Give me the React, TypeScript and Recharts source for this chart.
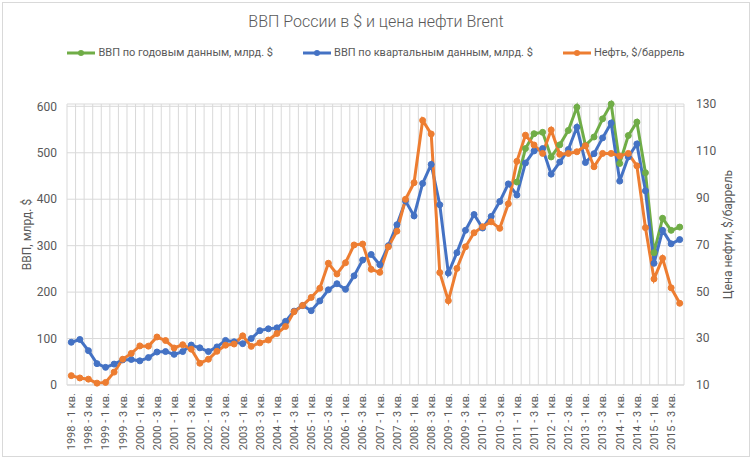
import { LineChart, Line, XAxis, YAxis, CartesianGrid, Legend, Label } from "recharts"

const years = [1998, 1999, 2000, 2001, 2002, 2003, 2004, 2005, 2006, 2007, 2008, 2009, 2010, 2011, 2012, 2013, 2014, 2015]
const quarters = ["1 кв.", "2 кв.", "3 кв.", "4 кв."]
const categories = years.flatMap((y) => quarters.map((q) => `${y} - ${q}`))

// ВВП по квартальным данным, млрд. $ (1998 Q1 .. 2015 Q4)
const gdpQuarterly = [
  92, 98, 74, 46, 38, 45, 54, 55, 52, 59, 71, 72, 66, 72, 86, 80, 72, 82, 96, 93,
  89, 100, 117, 121, 123, 137, 159, 171, 160, 181, 205, 218, 206, 235, 269, 281, 259, 300, 345, 396,
  364, 434, 475, 388, 241, 285, 333, 367, 338, 363, 395, 433, 409, 478, 504, 509, 454, 480, 507, 555,
  479, 498, 532, 564, 439, 491, 519, 418, 262, 333, 304, 313,
]

// ВВП по годовым данным, млрд. $ (from 2011 Q1)
const annualStart = 52
const gdpAnnual = [437, 509, 541, 544, 491, 517, 548, 598, 516, 534, 573, 605, 477, 537, 566, 457, 285, 359, 333, 340]

// Нефть Brent, $/баррель
const oil = [
  14, 13, 12.5, 10.8, 11.1, 15.5, 21, 23.5, 26.7, 26.6, 30.5, 29, 25.8, 27.2, 25.3, 19.3, 21, 24.4, 27, 27.5,
  31, 26.5, 28, 29.2, 32, 35, 41.3, 44, 47.4, 51.3, 62, 57.4, 62.2, 69.8, 70.2, 59.4, 58.1, 69, 75.7, 89.3,
  96.4, 123, 117.2, 58, 46, 59.8, 69, 75, 77.6, 79.7, 76.9, 87.4, 105.5, 116.7, 112.5, 108.9, 118.9, 108.5, 108.9, 109.6,
  112.2, 103.2, 108.9, 108.9, 107.8, 108.9, 103.6, 77.2, 55.3, 64.1, 51.5, 44.9,
]

const leftTicks = [0, 100, 200, 300, 400, 500, 600]
const rightTicks = [10, 30, 50, 70, 90, 110, 130]

const data = categories.map((name, i) => ({
  name,
  annual: i >= annualStart ? gdpAnnual[i - annualStart] : null,
  quarterly: gdpQuarterly[i],
  oil: oil[i],
}))

const GREEN = "#70AD47"
const BLUE = "#4472C4"
const ORANGE = "#ED7D31"
const TEXT = "#595959"
const GRID = "#D9D9D9"
const FONT = "Roboto, 'Liberation Sans', sans-serif"

const XTick = ({ x, y, payload }: any) => (
  <text
    x={x}
    y={y}
    transform={`rotate(-90, ${x}, ${y})`}
    textAnchor="end"
    dy="0.35em"
    fill={TEXT}
    fontSize={11}
    fontFamily={FONT}
  >
    {payload.value}
  </text>
)

const LegendContent = ({ payload }: any) => (
  <div style={{ display: "flex", justifyContent: "center", gap: 30, fontFamily: FONT, fontSize: 11, color: TEXT }}>
    {(payload || []).map((p: any) => (
      <div key={p.value} style={{ display: "flex", alignItems: "center" }}>
        <svg width={28} height={10} style={{ marginRight: 3 }}>
          <line x1={0} y1={5} x2={28} y2={5} stroke={p.color} strokeWidth={3} />
          <circle cx={14} cy={5} r={3} fill={p.color} />
        </svg>
        <span>{p.value}</span>
      </div>
    ))}
  </div>
)

const axisTitle = (text: string, x: number) => (props: any) => {
  const vb = props.viewBox
  const cy = vb.y + vb.height / 2 - 10
  return (
    <text x={x} y={cy} transform={`rotate(-90, ${x}, ${cy})`} textAnchor="middle" dy="0.35em" fill={TEXT} fontSize={12} fontFamily={FONT}>
      {text}
    </text>
  )
}

export default function App() {
  return (
    <div style={{ position: "absolute", left: 0, top: 0, width: 752, height: 459, background: "#fff" }}>
      <div
        style={{
          position: "absolute",
          left: 2,
          top: 2,
          width: 746,
          height: 453,
          border: `1px solid ${GRID}`,
        }}
      />
      <div
        style={{
          position: "absolute",
          left: 0,
          top: 12,
          width: 752,
          textAlign: "center",
          fontFamily: FONT,
          fontWeight: 300,
          fontSize: 16,
          color: TEXT,
        }}
      >
        ВВП России в $ и цена нефти Brent
      </div>
      <LineChart
        width={752}
        height={459}
        data={data}
        margin={{ top: 104, right: 30, bottom: 4, left: 30 }}
        style={{ fontFamily: FONT }}
      >
        <CartesianGrid
          stroke={GRID}
          yAxisId="left"
          verticalCoordinatesGenerator={({ offset }: any) =>
            Array.from({ length: categories.length + 1 }, (_, k) => offset.left + (k * offset.width) / categories.length)
          }
        />
        <XAxis
          dataKey="name"
          scale="band"
          interval={1}
          height={70}
          tickLine={false}
          axisLine={{ stroke: GRID }}
          tick={<XTick />}
        />
        <YAxis
          yAxisId="left"
          domain={[0, 600]}
          ticks={leftTicks}
          width={37}
          axisLine={false}
          tickLine={false}
          tickMargin={4}
          tick={{ fill: TEXT, fontSize: 12 }}
        >
          <Label content={axisTitle("ВВП, млрд. $", 27)} />
        </YAxis>
        <YAxis
          yAxisId="right"
          orientation="right"
          domain={[10, 130]}
          ticks={rightTicks}
          width={38}
          axisLine={false}
          tickLine={false}
          tickMargin={6}
          tick={{ fill: TEXT, fontSize: 12 }}
        >
          <Label content={axisTitle("Цена нефти, $/баррель", 728)} />
        </YAxis>
        <Legend
          layout="horizontal"
          verticalAlign="middle"
          align="center"
          wrapperStyle={{ top: 46, left: 0, width: 752 }}
          content={<LegendContent />}
        />
        <Line
          yAxisId="left"
          dataKey="annual"
          name="ВВП по годовым данным, млрд. $"
          stroke={GREEN}
          strokeWidth={3}
          dot={{ r: 3, fill: GREEN, stroke: GREEN, strokeWidth: 1 }}
          isAnimationActive={false}
        />
        <Line
          yAxisId="left"
          dataKey="quarterly"
          name="ВВП по квартальным данным, млрд. $"
          stroke={BLUE}
          strokeWidth={3}
          dot={{ r: 3, fill: BLUE, stroke: BLUE, strokeWidth: 1 }}
          isAnimationActive={false}
        />
        <Line
          yAxisId="right"
          dataKey="oil"
          name="Нефть, $/баррель"
          stroke={ORANGE}
          strokeWidth={3}
          dot={{ r: 3, fill: ORANGE, stroke: ORANGE, strokeWidth: 1 }}
          isAnimationActive={false}
        />
      </LineChart>
    </div>
  )
}
